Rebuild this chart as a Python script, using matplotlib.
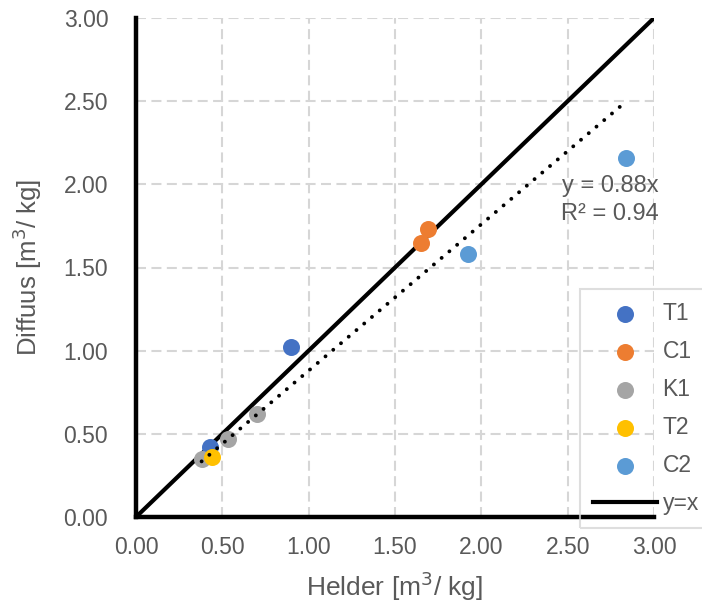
import matplotlib.pyplot as plt
import numpy as np

plt.rcParams['font.family'] = ['Liberation Sans', 'DejaVu Sans']

# Helder vs diffuus values per series
t1_x = [0.90, 0.43]
t1_y = [1.02, 0.42]
c1_x = [1.69, 1.65]
c1_y = [1.73, 1.65]
k1_x = [0.38, 0.53, 0.70]
k1_y = [0.35, 0.47, 0.62]
t2_x = [0.44]
t2_y = [0.36]
c2_x = [1.92, 2.84]
c2_y = [1.58, 2.16]

slope = 0.88
r2 = 0.94
ticks = [0.0, 0.5, 1.0, 1.5, 2.0, 2.5, 3.0]

grey = '#595959'

fig = plt.figure(figsize=(7.02, 6.07), dpi=100)
ax = fig.add_axes([136 / 702, 1 - 517 / 607, 518 / 702, 499 / 607])

ax.plot([0, 3], [0, 3], color='black', lw=3, zorder=2, label='y=x')

series = [('T1', t1_x, t1_y, '#4472C4'),
          ('C1', c1_x, c1_y, '#ED7D31'),
          ('K1', k1_x, k1_y, '#A5A5A5'),
          ('T2', t2_x, t2_y, '#FFC000'),
          ('C2', c2_x, c2_y, '#5B9BD5')]
for name, xs, ys, col in series:
    ax.scatter(xs, ys, s=150, color=col, label=name, zorder=3, linewidths=0)

# trendline through origin over the data range
all_x = t1_x + c1_x + k1_x + t2_x + c2_x
tx = np.array([min(all_x), max(all_x)])
ax.plot(tx, slope * tx, color='black', lw=2.8, linestyle=(0, (0.01, 2.6)),
        dash_capstyle='round', zorder=4)

ax.text(3.025, 1.99, f'y = {slope:.2f}x', ha='right', va='center',
        fontsize=17, color=grey)
ax.text(3.025, 1.82, f'R² = {r2:.2f}', ha='right', va='center',
        fontsize=17, color=grey)

ax.set_xlim(0, 3)
ax.set_ylim(0, 3)
ax.set_xticks(ticks)
ax.set_yticks(ticks)
ax.set_xticklabels([f'{t:.2f}' for t in ticks])
ax.set_yticklabels([f'{t:.2f}' for t in ticks])
ax.tick_params(length=0, labelsize=16.5, labelcolor=grey)
ax.tick_params(axis='x', pad=14)
ax.tick_params(axis='y', pad=20)
ax.grid(True, color='#D6D6D6', linestyle=(0, (4.8, 2.6)), lw=1.5)
ax.set_axisbelow(True)
for s in ['top', 'right']:
    ax.spines[s].set_visible(False)
for s in ['left', 'bottom']:
    ax.spines[s].set_linewidth(3.2)
    ax.spines[s].set_color('black')

ax.set_xlabel('Helder [m$^3$/ kg]', fontsize=19, color=grey, labelpad=7)
ax.set_ylabel('Diffuus [m$^3$/ kg]', fontsize=18.5, color=grey, labelpad=14)

handles, labels = ax.get_legend_handles_labels()
order = labels.index('y=x')
handles = handles[:order] + handles[order + 1:] + [handles[order]]
labels = labels[:order] + labels[order + 1:] + [labels[order]]
leg = fig.legend(handles, labels, loc='upper left',
                 bbox_to_anchor=(580 / 702, 1 - 289 / 607),
                 fontsize=16.5, frameon=True, fancybox=False,
                 edgecolor='#D6D6D6', handlelength=2.8, labelspacing=0.66,
                 handletextpad=0.25, borderpad=0.55, borderaxespad=0,
                 labelcolor=grey)
leg.get_frame().set_linewidth(1.5)
leg.get_frame().set_facecolor('none')

fig.savefig('out.png', dpi=100)
